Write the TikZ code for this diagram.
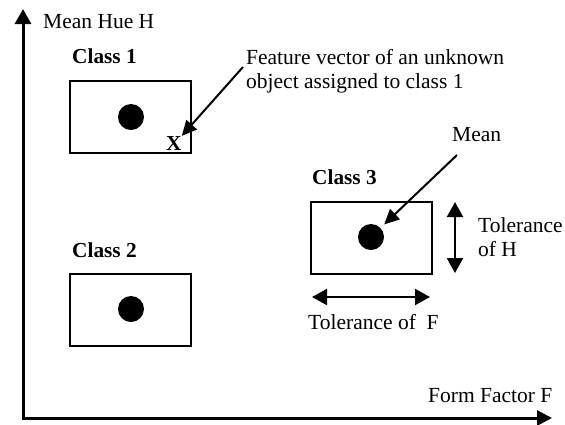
\documentclass[tikz,border=0pt]{standalone}
\usepackage{fontspec}
\setmainfont{Liberation Serif}
\usetikzlibrary{arrows.meta}
\begin{document}
\begin{tikzpicture}[x=1pt,y=-1pt,
  lbl/.style={anchor=base west, inner sep=0, font=\fontsize{21.5}{24}\selectfont},
  cls/.style={anchor=base west, inner sep=0, font=\fontsize{21.3}{24}\selectfont\bfseries},
  region/.style={draw, line width=2pt, minimum width=121pt, minimum height=72pt, inner sep=0},
  meanpt/.style={circle, fill=black, minimum size=26pt, inner sep=0},
  axis/.style={line width=3pt, {Triangle[length=15pt,width=16pt]}-{Triangle[length=15pt,width=15pt]}},
  arr/.style={line width=2pt, -{Triangle[length=15pt,width=14pt]}},
  dbl/.style={line width=2pt, {Triangle[length=15pt,width=16pt]}-{Triangle[length=15pt,width=16pt]}}]
\useasboundingbox (0,0) rectangle (565,424);

% axes
\coordinate (ytop) at (23,9);
\coordinate (origin) at (23,418);
\coordinate (xend) at (552,418);
\draw[axis] (ytop) -- (origin) -- (xend);
\node[lbl] (ylab) at (43,28) {Mean Hue H};
\node[lbl] (xlab) at (428,402) {Form Factor F};

% class 1
\node[cls] (c1) at (72,63) {Class 1};
\node[region] (b1) at (130.5,117) {};
\node[meanpt] (d1) at (131,117) {};
\node[cls] (xm) at (166,150) {X};

% class 2
\node[cls] (c2) at (72,257) {Class 2};
\node[region] (b2) at (130.5,309.5) {};
\node[meanpt] (d2) at (131,309) {};

% class 3
\node[cls] (c3) at (312,184) {Class 3};
\node[region] (b3) at (371.5,237.5) {};
\node[meanpt] (d3) at (371,237) {};

% feature vector annotation
\node[lbl, align=left, anchor=north west] (feat) at (246,49) {Feature vector of an unknown\\object assigned to class 1};
\coordinate (fs) at (243,67);
\draw[arr] (fs) -- (xm.north east);

% mean annotation
\node[lbl] (mean) at (452,141) {Mean};
\coordinate (ms) at (457,155);
\draw[arr, shorten >=5pt] (ms) -- (d3);

% tolerances
\coordinate (th1) at (455,202);
\coordinate (th2) at (455,273);
\draw[dbl] (th1) -- (th2);
\node[lbl] (tolh1) at (478,232) {Tolerance};
\node[lbl] (tolh2) at (478,256) {of H};

\coordinate (tf1) at (312,297);
\coordinate (tf2) at (430,297);
\draw[dbl] (tf1) -- (tf2);
\node[lbl] (tolf) at (308,329) {Tolerance of \ F};
\end{tikzpicture}
\end{document}
